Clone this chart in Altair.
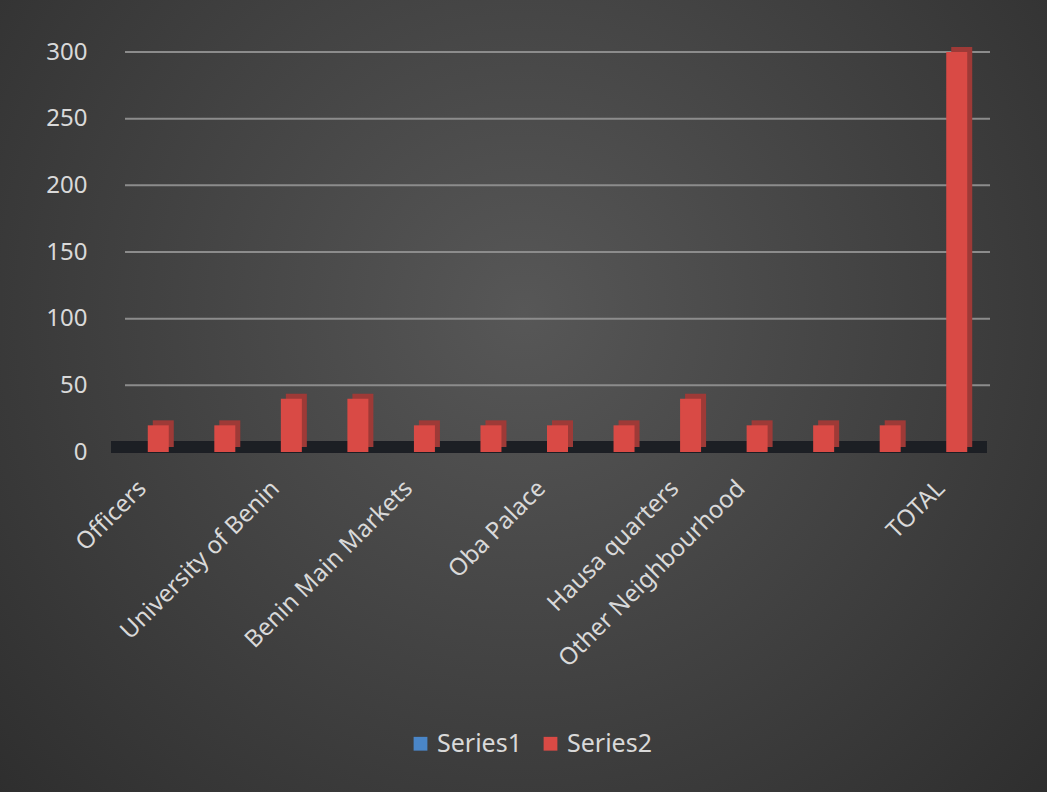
import altair as alt
import pandas as pd

idx = list(range(13))
labels = ["Officers", "", "University of Benin", "", "Benin Main Markets", "",
          "Oba Palace", "", "Hausa quarters", "Other Neighbourhood", "", "", "TOTAL"]
series1 = [0] * 13
series2 = [20, 20, 40, 40, 20, 20, 20, 20, 40, 20, 20, 20, 300]
y_ticks = [0, 50, 100, 150, 200, 250, 300]

rows = []
for i in idx:
    rows.append({"idx": i, "series": "Series1", "value": series1[i]})
    rows.append({"idx": i, "series": "Series2", "value": series2[i]})
df = pd.DataFrame(rows)

label_js = "[" + ",".join('"%s"' % l for l in labels) + "]"

FONT = "Noto Sans"
TXT = "#d9d9d9"
YSCALE = alt.Scale(domain=[0, 300], nice=False)

x_enc = alt.X("idx:O", title=None,
              scale=alt.Scale(paddingInner=0, paddingOuter=0),
              axis=alt.Axis(labelExpr=label_js + "[datum.value]",
                            labelAngle=-45, labelAlign="right", labelBaseline="top",
                            labelPadding=24, labelOffset=-24, labelFontSize=24,
                            labelColor=TXT, labelFont=FONT, ticks=False,
                            domain=False, grid=False, labelOverlap=False,
                            labelBound=False, labelLimit=0, zindex=1))
y_enc = alt.Y("value:Q", title=None, scale=YSCALE,
              axis=alt.Axis(values=y_ticks,
                            labelFontSize=24, labelColor=TXT, labelFont=FONT,
                            labelPadding=38, ticks=False, domain=False,
                            grid=False, zindex=1))

bg = alt.Chart(pd.DataFrame({"a": [0]})).mark_rect(
    fill=alt.Gradient(gradient="radial", x1=0.5, y1=0.42, r1=0.0,
                      x2=0.5, y2=0.42, r2=0.75,
                      stops=[alt.GradientStop(color="#575757", offset=0),
                             alt.GradientStop(color="#2a2a2a", offset=1)])
).encode(x=alt.value(-125), x2=alt.value(922), y=alt.value(-52), y2=alt.value(740))

grid = alt.Chart(pd.DataFrame({"value": y_ticks[1:]})).mark_rule(
    color="#8c8c8c", strokeWidth=2
).encode(y=y_enc, x=alt.value(0), x2=alt.value(865))

base = alt.Chart(df)

floor = base.mark_rule(color="#1c1f24", strokeWidth=11, yOffset=-5).encode(
    y=alt.datum(0), x=alt.value(-14), x2=alt.value(862)
)

s2 = df[df.series == "Series2"]
depth = alt.Chart(s2).mark_bar(size=21, xOffset=5, yOffset=-5, color="#9e3a37").encode(
    x=x_enc, y=y_enc
)

front = base.mark_bar(size=21).encode(
    x=x_enc, y=y_enc,
    color=alt.Color("series:N", title=None,
                    scale=alt.Scale(domain=["Series1", "Series2"],
                                    range=["#4a86c8", "#d94a45"]),
                    legend=alt.Legend(orient="none", legendX=283, legendY=679,
                                      direction="horizontal", symbolType="square",
                                      symbolSize=190, labelFontSize=25,
                                      labelColor=TXT, labelFont=FONT,
                                      columnPadding=16, symbolStrokeWidth=0))
)

chart = alt.layer(bg, grid, floor, depth, front).properties(
    width=865, height=400,
    autosize=alt.AutoSizeParams(type="none"),
    padding={"left": 125, "top": 52, "right": 57, "bottom": 340},
    background="#303030",
).configure_view(stroke=None)

chart.save("out.html", embed_options={"renderer": "svg", "actions": False})
